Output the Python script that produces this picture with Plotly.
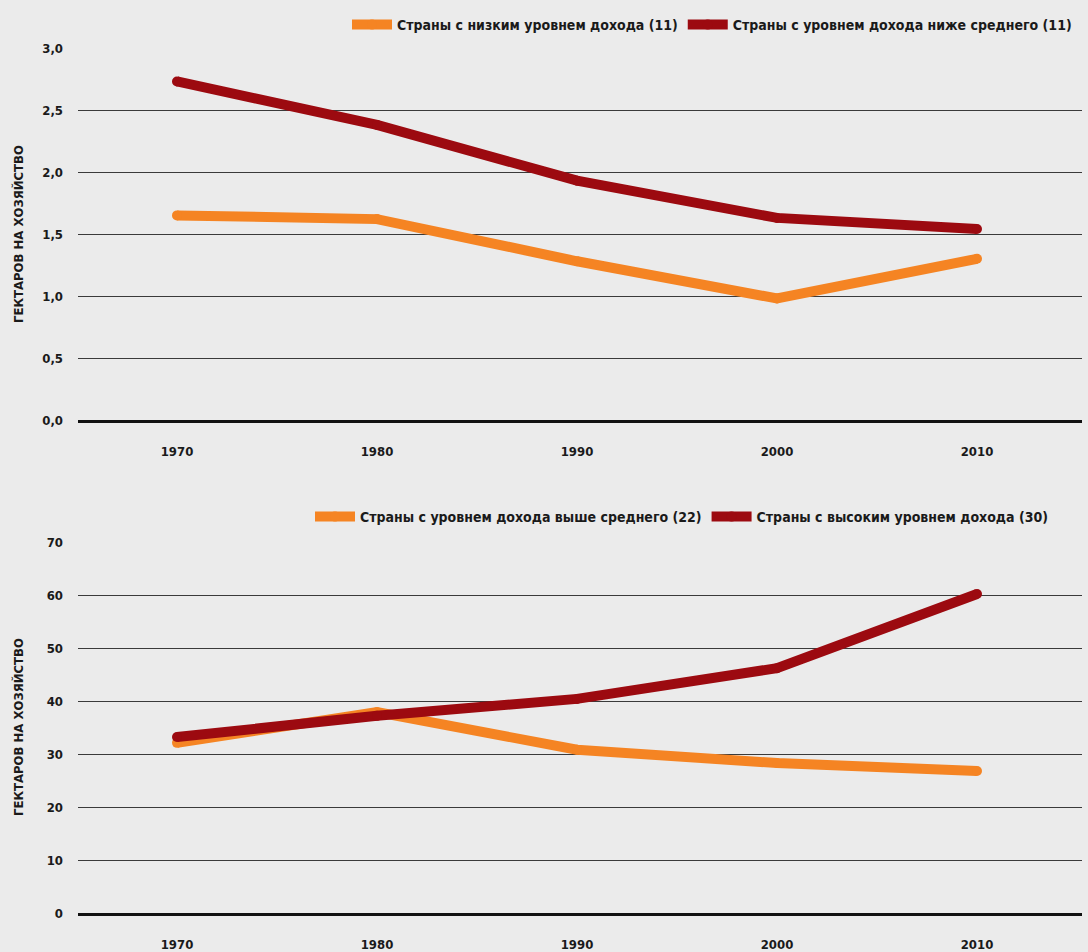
import plotly.graph_objects as go

years = [1970, 1980, 1990, 2000, 2010]

low_income = [1.65, 1.62, 1.28, 0.98, 1.30]
lower_middle = [2.73, 2.38, 1.93, 1.63, 1.54]
upper_middle = [32.1, 37.9, 30.8, 28.3, 26.8]
high_income = [33.2, 37.2, 40.4, 46.2, 60.2]

name_low = "Страны с низким уровнем дохода (11)"
name_lower_mid = "Страны с уровнем дохода ниже среднего (11)"
name_upper_mid = "Страны с уровнем дохода выше среднего (22)"
name_high = "Страны с высоким уровнем дохода (30)"
y_title = "ГЕКТАРОВ НА ХОЗЯЙСТВО"

ORANGE = "#F58423"
DARKRED = "#9C0A10"
FONT = "Liberation Sans Narrow, DejaVu Sans Condensed, Arial Narrow, sans-serif"

W, H = 1088, 952
L, R = 78, 6
PW = W - L - R

fig = go.Figure()

def add(x, y, name, color, xa, ya, leg):
    fig.add_trace(go.Scatter(
        x=x, y=y, name=name, mode="lines+markers",
        line=dict(color=color, width=10),
        marker=dict(color=color, size=10),
        xaxis=xa, yaxis=ya, legend=leg, hoverinfo="skip"))

add(years, low_income, name_low, ORANGE, "x", "y", "legend")
add(years, lower_middle, name_lower_mid, DARKRED, "x", "y", "legend")
add(years, upper_middle, name_upper_mid, ORANGE, "x2", "y2", "legend2")
add(years, high_income, name_high, DARKRED, "x2", "y2", "legend2")

def py(px):
    return 1 - px / H

def pxr(px):
    return (px - L) / PW

xcommon = dict(
    range=[1965.05, 2015.25], tickvals=years, showgrid=False, zeroline=False,
    showline=True, linecolor="#111111", linewidth=3,
    ticks="", ticklabelstandoff=17,
    tickfont=dict(family=FONT, size=13, color="#1a1a1a", weight="bold"),
    fixedrange=True,
)
ycommon = dict(
    showgrid=True, gridcolor="#3a3a3a", gridwidth=1, zeroline=False,
    ticks="", ticklabelstandoff=14,
    tickfont=dict(family=FONT, size=13, color="#1a1a1a", weight="bold"),
    fixedrange=True,
)

legfont = dict(family=FONT, size=14, color="#1a1a1a", weight="bold")

fig.update_layout(
    width=W, height=H,
    margin=dict(l=L, r=R, t=0, b=0, autoexpand=False),
    paper_bgcolor="#EBEBEB", plot_bgcolor="#EBEBEB",
    separators=", ",
    showlegend=True,
    xaxis=dict(domain=[0, 1], anchor="y", **xcommon),
    yaxis=dict(domain=[py(420), py(48)], anchor="x", range=[0, 3.0],
               tickvals=[0, 0.5, 1.0, 1.5, 2.0, 2.5, 3.0], tickformat=".1f", **ycommon),
    xaxis2=dict(domain=[0, 1], anchor="y2", **xcommon),
    yaxis2=dict(domain=[py(913), py(542)], anchor="x2", range=[0, 70],
                tickvals=[0, 10, 20, 30, 40, 50, 60, 70], **ycommon),
    legend=dict(orientation="h", x=pxr(347), xanchor="left", y=py(25), yanchor="middle",
                bgcolor="rgba(0,0,0,0)", font=legfont,
                traceorder="normal", itemwidth=40),
    legend2=dict(orientation="h", x=pxr(310), xanchor="left", y=py(517), yanchor="middle",
                 bgcolor="rgba(0,0,0,0)", font=legfont,
                 traceorder="normal", itemwidth=40),
    annotations=[
        dict(text=y_title, textangle=-90, xref="paper", yref="paper",
             x=pxr(18), y=py(234), xanchor="center", yanchor="middle",
             showarrow=False, font=dict(family=FONT, size=13, color="#1a1a1a", weight="bold")),
        dict(text=y_title, textangle=-90, xref="paper", yref="paper",
             x=pxr(18), y=py(727), xanchor="center", yanchor="middle",
             showarrow=False, font=dict(family=FONT, size=13, color="#1a1a1a", weight="bold")),
    ],
)

fig.write_html("out.html", config={"displayModeBar": False},
               post_script="document.body.style.margin='0';")
